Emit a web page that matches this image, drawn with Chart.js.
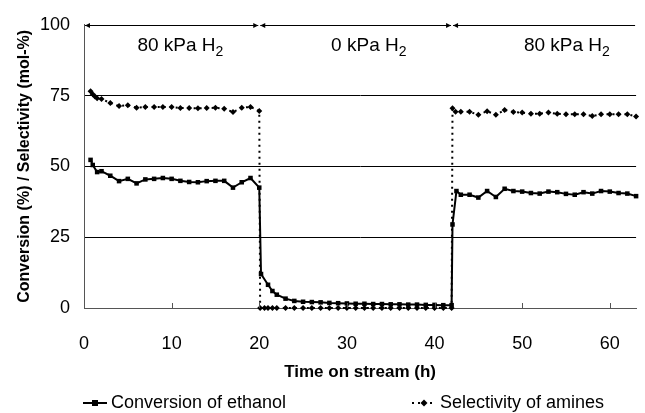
<!DOCTYPE html>
<html>
<head>
<meta charset="utf-8">
<script src="https://cdn.jsdelivr.net/npm/chart.js@4.4.1/dist/chart.umd.min.js"></script>
<style>
  html, body { margin: 0; padding: 0; background: #fff; }
  #wrap { width: 645px; height: 413px; }
</style>
</head>
<body>
<div id="wrap"><canvas id="chart" width="645" height="413"></canvas></div>
<script>
// time on stream (h) and values
const convTime = [0.75, 1, 1.5, 2, 3, 4, 5, 6, 7, 8, 9, 10, 11, 12, 13, 14, 15, 16, 17, 18, 19, 20,
  20.2, 21, 21.5, 22, 23, 24, 25, 26, 27, 28, 29, 30, 31, 32, 33, 34, 35, 36, 37, 38, 39, 40, 41, 41.95,
  42.05, 42.5, 43, 44, 45, 46, 47, 48, 49, 50, 51, 52, 53, 54, 55, 56, 57, 58, 59, 60, 61, 62, 63];
const conversion = [52.3, 50.5, 48, 48.3, 46.7, 44.8, 45.6, 44, 45.4, 45.6, 45.9, 45.6, 44.9, 44.5, 44.4, 44.8, 44.9, 44.9, 42.5, 44.4, 45.9, 42.5,
  12.0, 8.2, 6.0, 4.7, 3.3, 2.5, 2.2, 2.1, 2.0, 1.8, 1.7, 1.6, 1.5, 1.5, 1.4, 1.4, 1.3, 1.3, 1.2, 1.2, 1.1, 1.1, 1.0, 1.0,
  29.5, 41.3, 40, 40, 39, 41.3, 39.2, 42.1, 41.3, 41.1, 40.6, 40.4, 41.1, 40.9, 40.3, 40, 40.9, 40.4, 41.3, 41.1, 40.6, 40.4, 39.5];

const selTime = [0.75, 1, 1.25, 1.5, 2, 3, 4, 5, 6, 7, 8, 9, 10, 11, 12, 13, 14, 15, 16, 17, 18, 19, 20,
  20.1, 20.6, 21, 21.5, 22, 23, 24, 25, 26, 27, 28, 29, 30, 31, 32, 33, 34, 35, 36, 37, 38, 39, 40, 41, 41.95,
  42.05, 42.4, 43, 44, 45, 46, 47, 48, 49, 50, 51, 52, 53, 54, 55, 56, 57, 58, 59, 60, 61, 62, 63];
const selectivity = [76.5, 75.5, 74.7, 74.1, 73.8, 72.4, 71.3, 71.6, 70.7, 71, 71, 71, 71, 70.6, 70.6, 70.5, 70.6, 70.7, 70.4, 69.2, 70.7, 71, 69.6,
  0, 0, 0, 0, 0, 0, 0, 0, 0, 0, 0, 0, 0, 0, 0, 0, 0, 0, 0, 0, 0, 0, 0, 0, 0,
  70.5, 69.3, 69.3, 69.3, 68.2, 69.5, 68.2, 69.9, 69.2, 69.0, 68.6, 68.6, 69.0, 68.6, 68.4, 68.4, 68.4, 67.8, 68.4, 68.4, 68.4, 68.4, 67.6];

// H2 pressure periods shown along the top
const periodStart = [0, 20, 42];
const periodEnd = [20, 42, 63];
const periodLabel = ['80 kPa H', '0 kPa H', '80 kPa H'];
const periodLabelX = [11, 32.5, 55.1];
const periodLabelY = 92.5;

const xTicks = [0, 10, 20, 30, 40, 50, 60];
const yTicks = [0, 25, 50, 75, 100];

const seriesNames = ['Conversion of ethanol', 'Selectivity of amines'];

const FONT = "'Liberation Sans', Arial, sans-serif";

const toPoints = (xs, ys) => xs.map((x, i) => ({ x: x, y: ys[i] }));

// periods, inside x ticks and the legend
const extras = {
  id: 'extras',
  afterDraw(chart) {
    const ctx = chart.ctx;
    const xs = chart.scales.x;
    const ys = chart.scales.y;
    const area = chart.chartArea;

    ctx.save();
    // small tick marks pointing into the plot
    ctx.strokeStyle = '#555';
    ctx.lineWidth = 1;
    xTicks.forEach(v => {
      if (v === 0) return;
      const px = Math.round(xs.getPixelForValue(v)) + 0.5;
      ctx.beginPath();
      ctx.moveTo(px, area.bottom);
      ctx.lineTo(px, area.bottom - 5);
      ctx.stroke();
    });

    // period lines with arrow heads
    const topY = Math.round(ys.getPixelForValue(100)) + 0.5;
    ctx.strokeStyle = '#000';
    ctx.fillStyle = '#000';
    periodStart.forEach((s, i) => {
      const a = xs.getPixelForValue(s) + 1;
      const b = Math.min(xs.getPixelForValue(periodEnd[i]) - 1, chart.width - 1);
      ctx.beginPath();
      ctx.moveTo(a, topY);
      ctx.lineTo(b, topY);
      ctx.stroke();
      ctx.beginPath();
      ctx.moveTo(a, topY);
      ctx.lineTo(a + 5, topY - 2.5);
      ctx.lineTo(a + 5, topY + 2.5);
      ctx.closePath();
      ctx.fill();
      if (periodEnd[i] < xs.max) {
        ctx.beginPath();
        ctx.moveTo(b, topY);
        ctx.lineTo(b - 5, topY - 2.5);
        ctx.lineTo(b - 5, topY + 2.5);
        ctx.closePath();
        ctx.fill();
      }

      // label with subscript 2
      const main = periodLabel[i];
      ctx.font = '19px ' + FONT;
      const w1 = ctx.measureText(main).width;
      ctx.font = '14px ' + FONT;
      const w2 = ctx.measureText('2').width;
      const cx = xs.getPixelForValue(periodLabelX[i]);
      const cy = ys.getPixelForValue(periodLabelY);
      const left = cx - (w1 + w2) / 2;
      ctx.textBaseline = 'middle';
      ctx.textAlign = 'left';
      ctx.font = '19px ' + FONT;
      ctx.fillText(main, left, cy);
      ctx.font = '14px ' + FONT;
      ctx.fillText('2', left + w1, cy + 6);
    });

    // legend
    const ly = 403;
    ctx.font = '18px ' + FONT;
    ctx.textBaseline = 'middle';
    ctx.textAlign = 'left';
    ctx.lineWidth = 2;
    // conversion
    ctx.setLineDash([]);
    ctx.beginPath();
    ctx.moveTo(83, ly);
    ctx.lineTo(107, ly);
    ctx.stroke();
    ctx.fillRect(92, ly - 3, 6, 6);
    ctx.fillText(seriesNames[0], 111, ly);
    // selectivity
    ctx.setLineDash([2, 4]);
    ctx.beginPath();
    ctx.moveTo(412, ly);
    ctx.lineTo(436, ly);
    ctx.stroke();
    ctx.setLineDash([]);
    ctx.beginPath();
    ctx.moveTo(424, ly - 3.5);
    ctx.lineTo(427.5, ly);
    ctx.lineTo(424, ly + 3.5);
    ctx.lineTo(420.5, ly);
    ctx.closePath();
    ctx.fill();
    ctx.fillText(seriesNames[1], 440, ly);
    ctx.restore();
  }
};

new Chart(document.getElementById('chart'), {
  type: 'scatter',
  data: {
    datasets: [
      {
        label: seriesNames[0],
        data: toPoints(convTime, conversion),
        showLine: true,
        borderColor: '#000',
        backgroundColor: '#000',
        borderWidth: 2,
        pointStyle: 'rect',
        pointRadius: 3.2,
        pointBorderWidth: 0,
        clip: false
      },
      {
        label: seriesNames[1],
        data: toPoints(selTime, selectivity),
        showLine: true,
        borderColor: '#000',
        backgroundColor: '#000',
        borderWidth: 2,
        borderDash: [2, 4],
        pointStyle: 'rectRot',
        pointRadius: 3,
        pointBorderWidth: 0,
        clip: false
      }
    ]
  },
  options: {
    responsive: false,
    animation: false,
    layout: { padding: { top: 18, right: 0, bottom: 28, left: 0 } },
    plugins: {
      legend: { display: false },
      tooltip: { enabled: false }
    },
    scales: {
      x: {
        type: 'linear',
        min: 0,
        max: 63,
        afterBuildTicks: s => { s.ticks = xTicks.map(v => ({ value: v })); },
        afterFit: s => { s.height = 77; },
        grid: { display: false, drawTicks: false },
        border: { display: true, color: '#555', width: 1 },
        ticks: { color: '#000', font: { family: FONT, size: 18 }, padding: 25, maxRotation: 0 },
        title: {
          display: true,
          text: 'Time on stream (h)',
          color: '#000',
          font: { family: FONT, size: 17, weight: 'bold' },
          padding: { top: 0, bottom: 2 }
        }
      },
      y: {
        min: 0,
        max: 100,
        afterBuildTicks: s => { s.ticks = yTicks.map(v => ({ value: v })); },
        afterFit: s => { s.width = 84; },
        grid: {
          drawTicks: false,
          color: c => (c.tick && c.tick.value > 0 && c.tick.value < 100) ? '#000' : 'rgba(0,0,0,0)',
          lineWidth: 1
        },
        border: { display: true, color: '#555', width: 1 },
        ticks: { color: '#000', font: { family: FONT, size: 18 }, padding: 14 },
        title: {
          display: true,
          text: 'Conversion (%) / Selectivity (mol-%)',
          color: '#000',
          font: { family: FONT, size: 16, weight: 'bold' },
          padding: { top: 15, bottom: 0 }
        }
      }
    }
  },
  plugins: [extras]
});
</script>
</body>
</html>
